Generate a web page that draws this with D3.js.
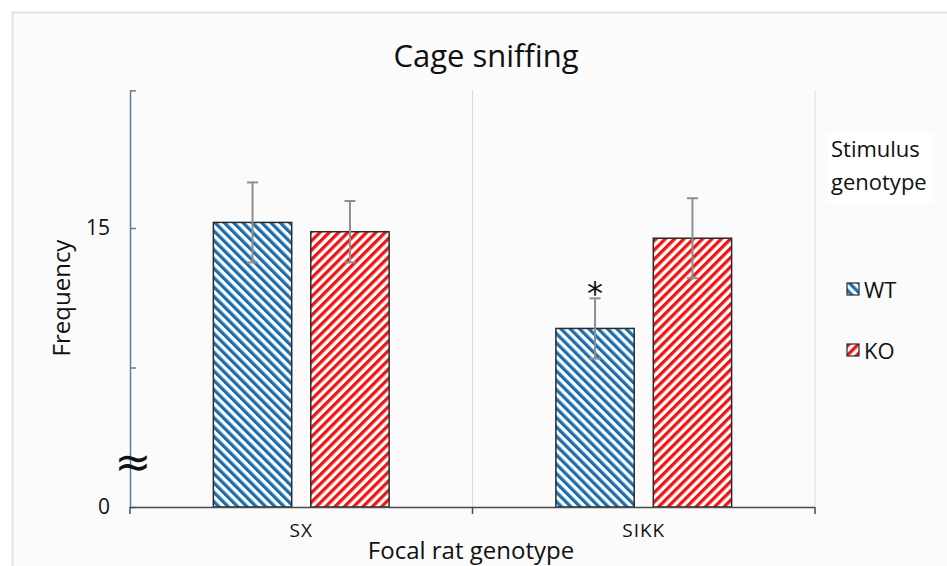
<!DOCTYPE html>
<html>
<head>
<meta charset="utf-8">
<script src="https://cdn.jsdelivr.net/npm/d3@7/dist/d3.min.js"></script>
<style>
  html, body { margin: 0; padding: 0; background: #ffffff; }
  svg { display: block; }
  text { font-family: "Open Sans", "DejaVu Sans", sans-serif; fill: #111; }
</style>
</head>
<body>
<svg id="chart" width="947" height="566"></svg>
<script>
// ---------------- data ----------------
const categories = ["SX", "SIKK"];
const seriesNames = ["WT", "KO"];
const wtValues = [15.3, 9.6];
const koValues = [14.8, 14.45];
const wtErrors = [2.15, 1.62];
const koErrors = [1.65, 2.15];
const wtMarks = ["", "*"];
const koMarks = ["", ""];
const yTickValues = [0, 7.5, 15, 22.4];
const yTickLabels = ["0", "", "15", ""];
const title = "Cage sniffing";
const yLabel = "Frequency";
const xLabel = "Focal rat genotype";
const legendTitle = ["Stimulus", "genotype"];

// ---------------- layout ----------------
const svg = d3.select("#chart");
const left = 130, right = 815, bottom = 507;
const colors = { WT: "#1b6fae", KO: "#f01414" };

const defs = svg.append("defs");
function hatch(id, color, angle) {
  const p = defs.append("pattern")
    .attr("id", id)
    .attr("patternUnits", "userSpaceOnUse")
    .attr("width", 6.6).attr("height", 6.6)
    .attr("patternTransform", `rotate(${angle})`);
  p.append("rect").attr("width", 6.6).attr("height", 6.6).attr("fill", "#ffffff");
  p.append("rect").attr("x", 0).attr("y", 0).attr("width", 3.3).attr("height", 6.6).attr("fill", color);
}
hatch("hatch-WT", colors.WT, -45);
hatch("hatch-KO", colors.KO, 45);

// panel
svg.append("rect").attr("x", 12.5).attr("y", 12.5).attr("width", 960).attr("height", 600)
  .attr("fill", "#fbfbfb").attr("stroke", "#e2e2e2").attr("stroke-width", 2);

// scales
const y = d3.scaleLinear().domain([0, 15]).range([bottom, 228]);
const x0 = d3.scaleBand().domain(categories).range([left, right]).padding(0);
const x1 = d3.scaleBand().domain(seriesNames).range([0, x0.bandwidth()])
  .paddingInner(0.196).paddingOuter(0.856);

const data = categories.map((c, i) => ({
  cat: c,
  bars: [
    { s: "WT", v: wtValues[i], e: wtErrors[i], m: wtMarks[i] },
    { s: "KO", v: koValues[i], e: koErrors[i], m: koMarks[i] }
  ]
}));

// vertical gridlines at category boundaries
const yTop = y(d3.max(yTickValues));
categories.forEach(c => {
  svg.append("line")
    .attr("x1", x0(c) + x0.bandwidth()).attr("x2", x0(c) + x0.bandwidth())
    .attr("y1", yTop).attr("y2", bottom)
    .attr("stroke", "#dcdcdc").attr("stroke-width", 1);
});

// y axis
const yAxis = d3.axisLeft(y)
  .tickValues(yTickValues)
  .tickFormat((d, i) => yTickLabels[i])
  .tickSizeInner(-6).tickSizeOuter(0).tickPadding(20);
const gy = svg.append("g").attr("transform", `translate(${left},0)`).call(yAxis);
gy.select(".domain").attr("stroke", "#5f7f96").attr("stroke-width", 1.5)
  .attr("d", `M0.5,${yTop}V${bottom}`);
gy.selectAll(".tick line").attr("stroke", "#5f7f96").attr("stroke-width", 1.5);
gy.selectAll(".tick text").style("font-size", "21px").attr("fill", "#111");

// axis break symbol
svg.append("text").attr("x", 133).attr("y", y(2.45))
  .attr("text-anchor", "middle").attr("dominant-baseline", "central")
  .style("font-size", "44px").style("font-family", "DejaVu Sans").text("≈");

// bars
const groups = svg.append("g").selectAll("g").data(data).join("g")
  .attr("transform", d => `translate(${x0(d.cat)},0)`);
groups.selectAll("rect").data(d => d.bars).join("rect")
  .attr("x", d => x1(d.s)).attr("width", x1.bandwidth())
  .attr("y", d => y(d.v)).attr("height", d => bottom - y(d.v))
  .attr("fill", d => `url(#hatch-${d.s})`)
  .attr("stroke", "#2a2a2a").attr("stroke-width", 1.5);

// error bars
const eb = groups.selectAll("g.err").data(d => d.bars).join("g").attr("class", "err");
const cap = 5.5;
eb.append("line")
  .attr("x1", d => x1(d.s) + x1.bandwidth() / 2).attr("x2", d => x1(d.s) + x1.bandwidth() / 2)
  .attr("y1", d => y(d.v + d.e)).attr("y2", d => y(d.v - d.e));
eb.append("line")
  .attr("x1", d => x1(d.s) + x1.bandwidth() / 2 - cap).attr("x2", d => x1(d.s) + x1.bandwidth() / 2 + cap)
  .attr("y1", d => y(d.v + d.e)).attr("y2", d => y(d.v + d.e));
eb.append("line")
  .attr("x1", d => x1(d.s) + x1.bandwidth() / 2 - cap).attr("x2", d => x1(d.s) + x1.bandwidth() / 2 + cap)
  .attr("y1", d => y(d.v - d.e)).attr("y2", d => y(d.v - d.e));
eb.selectAll("line").attr("stroke", "#8e8e8e").attr("stroke-width", 2);

// significance marks
groups.selectAll("text.sig").data(d => d.bars.filter(b => b.m)).join("text")
  .attr("class", "sig")
  .attr("x", d => x1(d.s) + x1.bandwidth() / 2)
  .attr("y", d => y(d.v + d.e) + 6)
  .attr("text-anchor", "middle")
  .style("font-size", "32px").style("font-family", "DejaVu Sans")
  .text(d => d.m);

// x axis
const xAxis = d3.axisBottom(x0).tickSize(0).tickPadding(17).tickSizeOuter(0);
const gx = svg.append("g").attr("transform", `translate(0,${bottom})`).call(xAxis);
gx.select(".domain").attr("stroke", "#4a4a4a").attr("stroke-width", 1.5)
  .attr("d", `M${left},0.5H${right}`);
gx.selectAll(".tick text").style("font-size", "19px").style("letter-spacing", "1px").attr("fill", "#111");
const bounds = [left].concat(categories.map(c => x0(c) + x0.bandwidth()));
gx.selectAll("line.bnd").data(bounds).join("line").attr("class", "bnd")
  .attr("x1", d => d).attr("x2", d => d).attr("y1", 0).attr("y2", 7)
  .attr("stroke", "#4a4a4a").attr("stroke-width", 1.5);

// title & axis labels
svg.append("text").attr("x", 486).attr("y", 67).attr("text-anchor", "middle")
  .style("font-size", "31px").text(title);
svg.append("text").attr("transform", "translate(70,298) rotate(-90)")
  .attr("text-anchor", "middle").style("font-size", "24px").text(yLabel);
svg.append("text").attr("x", 471).attr("y", 559).attr("text-anchor", "middle")
  .style("font-size", "24px").text(xLabel);

// legend
svg.append("rect").attr("x", 828).attr("y", 133).attr("width", 104).attr("height", 70).attr("fill", "#ffffff");
legendTitle.forEach((t, i) => {
  svg.append("text").attr("x", 831).attr("y", 157 + i * 33).style("font-size", "22px").text(t);
});
const leg = svg.append("g").selectAll("g").data(seriesNames).join("g")
  .attr("transform", (d, i) => `translate(847,${283 + i * 61})`);
leg.append("rect").attr("width", 12).attr("height", 12)
  .attr("fill", d => `url(#hatch-${d})`).attr("stroke", "#2a2a2a").attr("stroke-width", 1.2);
leg.append("text").attr("x", 17).attr("y", 6).attr("dominant-baseline", "central")
  .style("font-size", "22px").text(d => d);
</script>
</body>
</html>
